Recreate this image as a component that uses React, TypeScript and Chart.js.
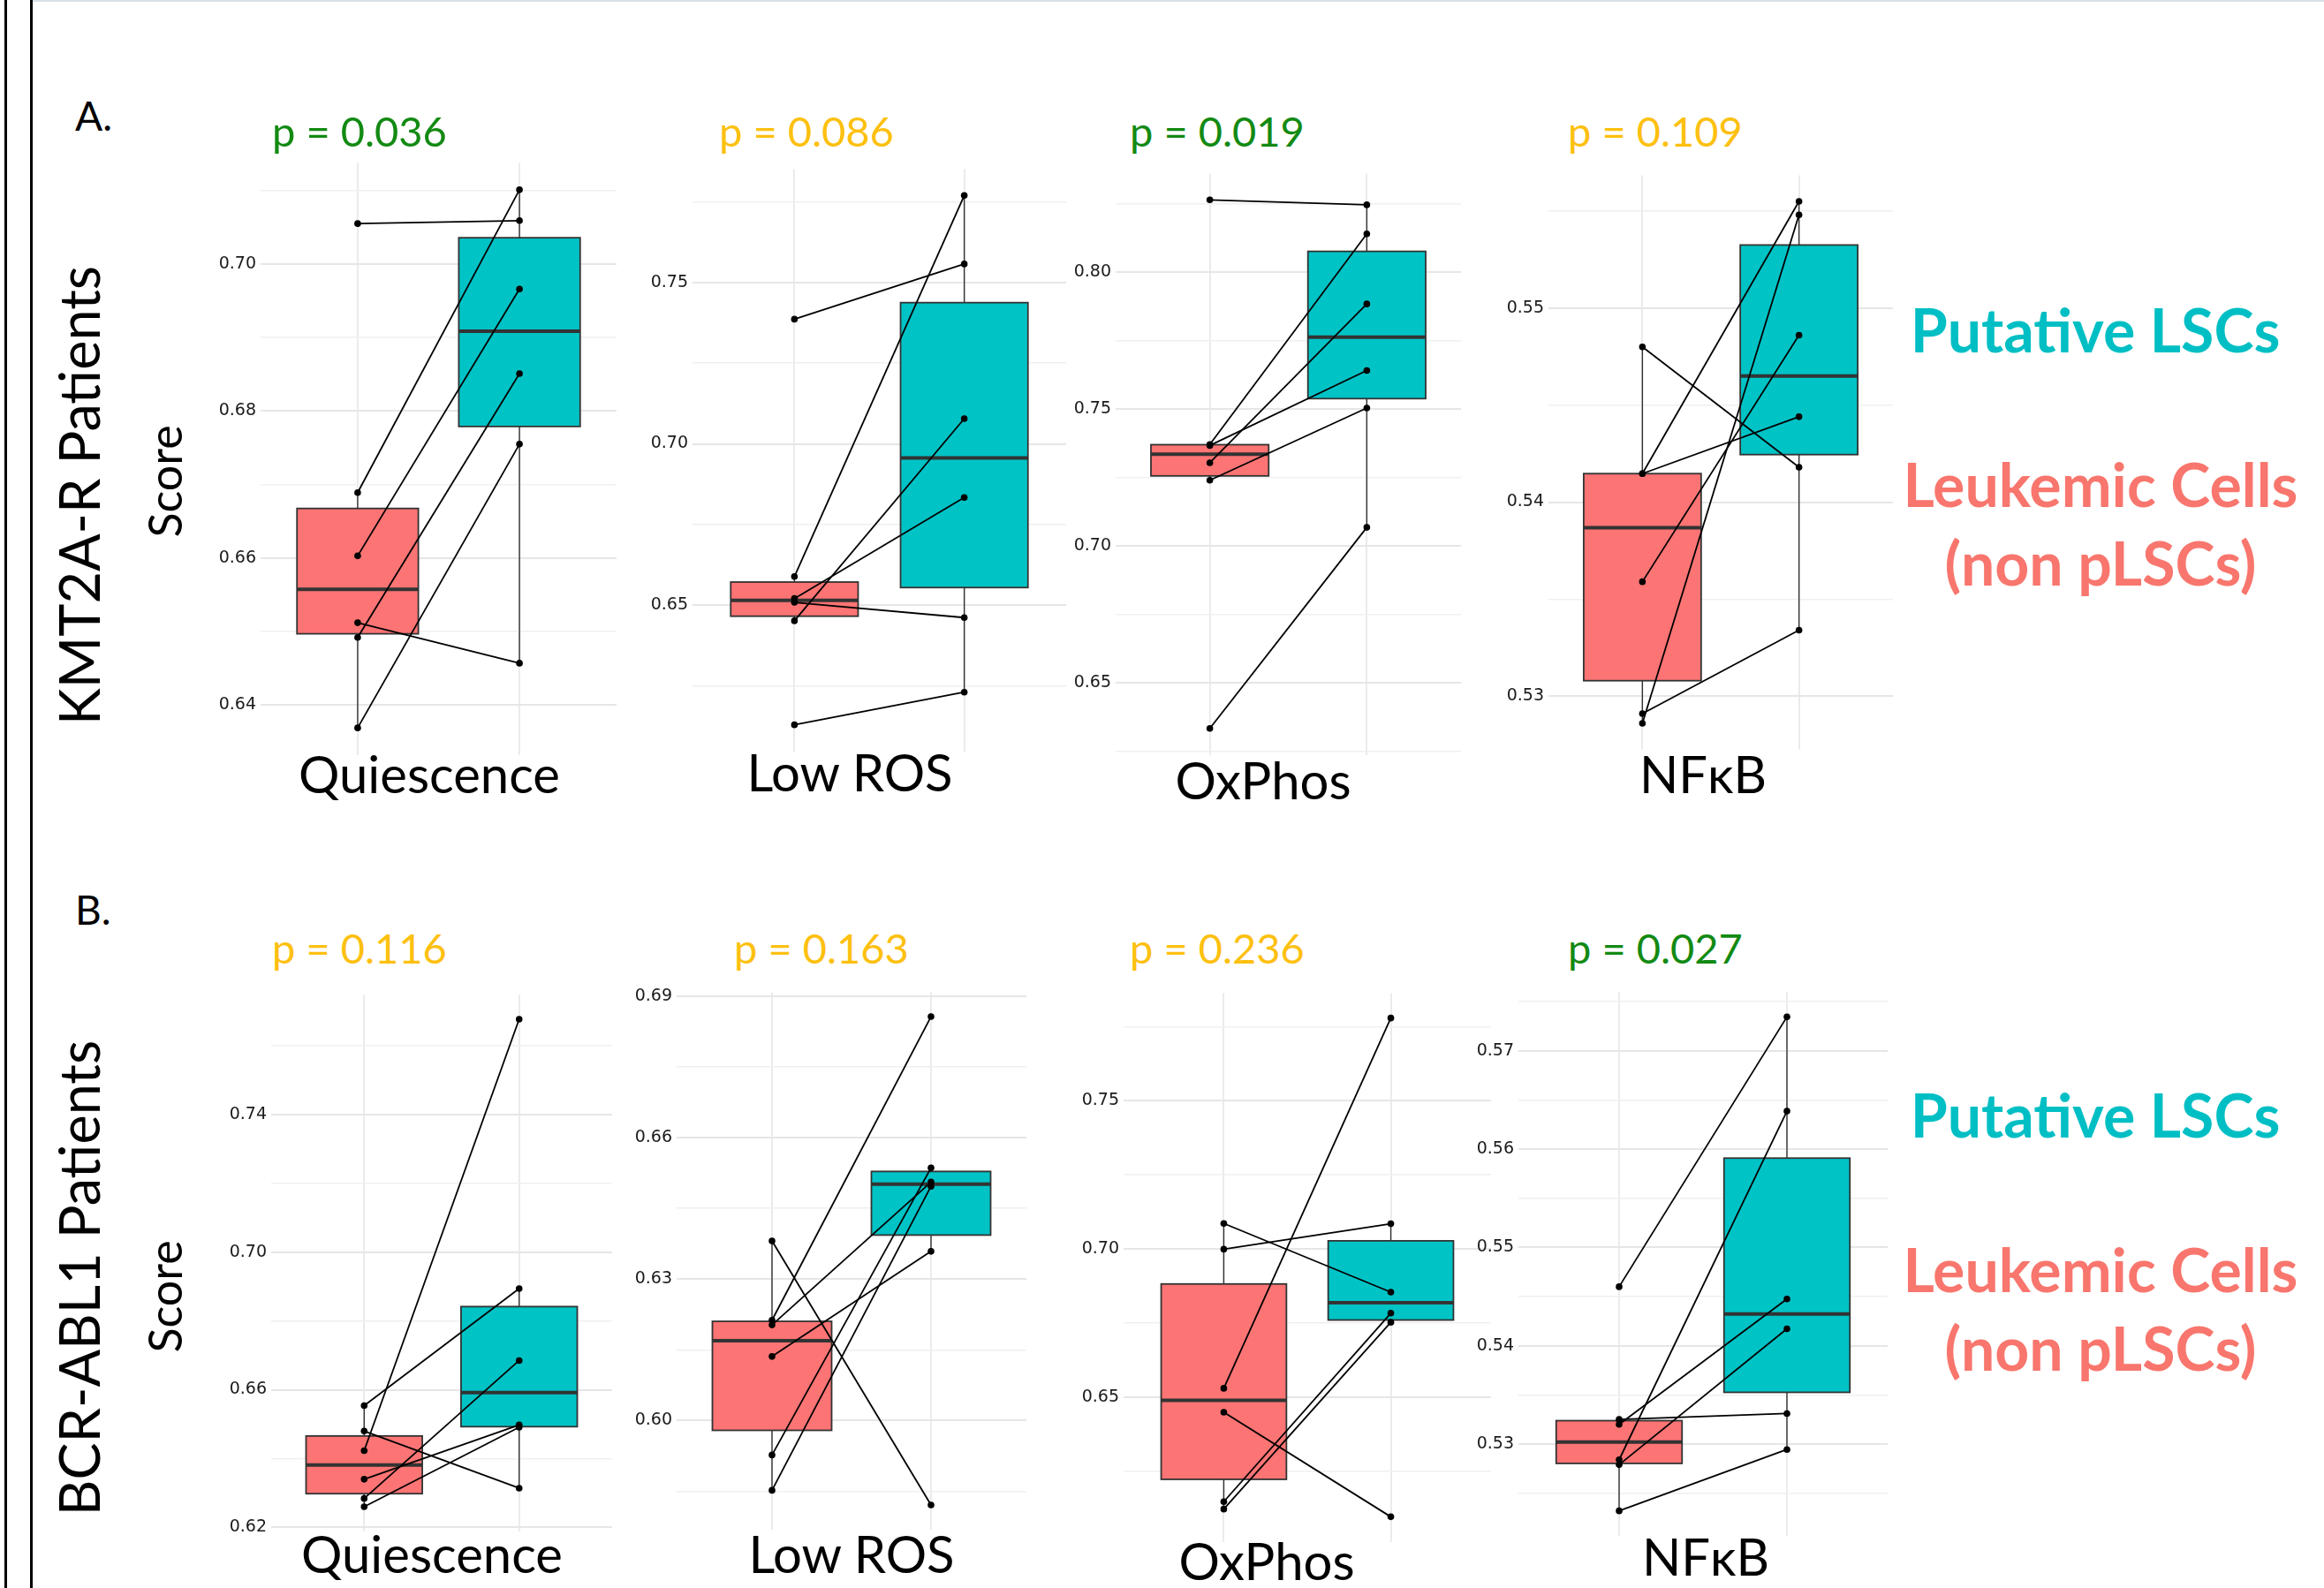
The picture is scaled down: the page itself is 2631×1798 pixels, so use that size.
import React, { useEffect, useRef } from 'react';
import { Chart, registerables } from 'chart.js';

Chart.register(...registerables);

// ---------------- Data ----------------
const groupNames = ['Leukemic Cells (non pLSCs)', 'Putative LSCs'];
const signatures = ['Quiescence', 'Low ROS', 'OxPhos', 'NFκB'];
const cohorts = ['KMT2A-R Patients', 'BCR-ABL1 Patients'];

// KMT2A-R patients (paired by index: non-pLSC -> pLSC)
const kmt2aQuiescenceLC = [0.7055, 0.6689, 0.6603, 0.6512, 0.6492, 0.6369];
const kmt2aQuiescenceLSC = [0.7059, 0.7101, 0.6966, 0.6457, 0.6851, 0.6755];
const kmt2aLowRosLC = [0.7386, 0.6589, 0.6521, 0.6509, 0.6452, 0.613];
const kmt2aLowRosLSC = [0.7557, 0.7769, 0.6834, 0.6462, 0.7078, 0.6231];
const kmt2aOxPhosLC = [0.8263, 0.737, 0.7366, 0.7303, 0.7239, 0.6333];
const kmt2aOxPhosLSC = [0.8245, 0.8139, 0.764, 0.7883, 0.7503, 0.7067];
const kmt2aNfkbLC = [0.548, 0.54147, 0.54147, 0.5359, 0.5291, 0.5286];
const kmt2aNfkbLSC = [0.5418, 0.5555, 0.5444, 0.5486, 0.5334, 0.5548];

// BCR-ABL1 patients
const bcrQuiescenceLC = [0.6554, 0.648, 0.6423, 0.634, 0.6284, 0.626];
const bcrQuiescenceLSC = [0.6894, 0.6314, 0.7677, 0.6498, 0.6685, 0.6491];
const bcrLowRosLC = [0.6381, 0.6213, 0.6203, 0.6136, 0.5927, 0.5852];
const bcrLowRosLSC = [0.5821, 0.6857, 0.6506, 0.6359, 0.6536, 0.6497];
const bcrOxPhosLC = [0.7086, 0.6999, 0.6529, 0.6448, 0.6146, 0.6121];
const bcrOxPhosLSC = [0.6854, 0.7085, 0.778, 0.6095, 0.6783, 0.6752];
const bcrNfkbLC = [0.546, 0.5325, 0.532, 0.5284, 0.5279, 0.5232];
const bcrNfkbLSC = [0.57345, 0.5331, 0.54475, 0.56386, 0.54172, 0.52944];

const kmt2aPValues = [0.036, 0.086, 0.019, 0.109];
const bcrPValues = [0.116, 0.163, 0.236, 0.027];

// labelled (major) y ticks per panel
const kmt2aQuiescenceTicks = [0.64, 0.66, 0.68, 0.7];
const kmt2aLowRosTicks = [0.65, 0.7, 0.75];
const kmt2aOxPhosTicks = [0.65, 0.7, 0.75, 0.8];
const kmt2aNfkbTicks = [0.53, 0.54, 0.55];
const bcrQuiescenceTicks = [0.62, 0.66, 0.7, 0.74];
const bcrLowRosTicks = [0.6, 0.63, 0.66, 0.69];
const bcrOxPhosTicks = [0.65, 0.7, 0.75];
const bcrNfkbTicks = [0.53, 0.54, 0.55, 0.56, 0.57];

// ---------------- Layout / style ----------------
const RED = '#FC7474';
const TEAL = '#00C3C6';
const SIG_GREEN = '#138A13';
const NS_YELLOW = '#FDC010';

// panel plot rectangles [left, top, right, bottom]
const panelRectsA = [
  [295, 182, 698, 857],
  [784, 189, 1207, 853],
  [1263, 194, 1654, 857],
  [1753, 196, 2143, 851],
];
const panelRectsB = [
  [307, 1124, 693, 1736],
  [766, 1121, 1162, 1734],
  [1272, 1122, 1688, 1748],
  [1719, 1121, 2137, 1741],
];
const pLeftA = [308, 814, 1279, 1775];
const pLeftB = [308, 831, 1279, 1775];
const pBaseA = 167;
const pBaseB = 1092;
const xLabCenterA = [486, 962, 1430, 1928];
const xLabBaseA = [898, 896, 905, 898];
const xLabCenterB = [489, 964, 1434, 1931];
const xLabBaseB = [1781, 1781, 1789, 1784];

const AXIS_W = 70;
const PAD_T = 14;
const PAD_B = 14;
const PAD_R = 6;
const LATO_ASC = 0.887;

function quantile(sorted: number[], q: number) {
  const pos = (sorted.length - 1) * q;
  const lo = Math.floor(pos);
  const hi = Math.ceil(pos);
  return sorted[lo] + (sorted[hi] - sorted[lo]) * (pos - lo);
}

function boxStats(vals: number[]) {
  const s = [...vals].sort((a, b) => a - b);
  const q1 = quantile(s, 0.25);
  const med = quantile(s, 0.5);
  const q3 = quantile(s, 0.75);
  const iqr = q3 - q1;
  const lo = Math.min(...s.filter((v) => v >= q1 - 1.5 * iqr));
  const hi = Math.max(...s.filter((v) => v <= q3 + 1.5 * iqr));
  return { q1, med, q3, lo, hi };
}

function makeBoxPlugin(groups: { x: number; values: number[]; fill: string }[]) {
  return {
    id: 'pairedBoxes',
    beforeDatasetsDraw(chart: any) {
      const { ctx } = chart;
      const xs = chart.scales.x;
      const ys = chart.scales.y;
      ctx.save();
      for (const g of groups) {
        const st = boxStats(g.values);
        const cx = xs.getPixelForValue(g.x);
        const x0 = xs.getPixelForValue(g.x - 0.375);
        const x1 = xs.getPixelForValue(g.x + 0.375);
        const yq1 = ys.getPixelForValue(st.q1);
        const yq3 = ys.getPixelForValue(st.q3);
        const ymed = ys.getPixelForValue(st.med);
        // whiskers
        ctx.strokeStyle = '#333333';
        ctx.lineWidth = 1.4;
        ctx.beginPath();
        ctx.moveTo(cx, ys.getPixelForValue(st.lo));
        ctx.lineTo(cx, yq1);
        ctx.moveTo(cx, yq3);
        ctx.lineTo(cx, ys.getPixelForValue(st.hi));
        ctx.stroke();
        // box
        ctx.fillStyle = g.fill;
        ctx.fillRect(x0, yq3, x1 - x0, yq1 - yq3);
        ctx.lineWidth = 1.8;
        ctx.strokeStyle = '#333333';
        ctx.strokeRect(x0, yq3, x1 - x0, yq1 - yq3);
        // median
        ctx.lineWidth = 4;
        ctx.beginPath();
        ctx.moveTo(x0, ymed);
        ctx.lineTo(x1, ymed);
        ctx.stroke();
      }
      ctx.restore();
    },
  };
}

type PanelProps = { rect: number[]; lc: number[]; lsc: number[]; majors: number[] };

function Panel({ rect, lc, lsc, majors }: PanelProps) {
  const ref = useRef<HTMLCanvasElement>(null);
  const [l, t, r, b] = rect;
  const w = r - l + AXIS_W + PAD_R;
  const h = b - t + PAD_T + PAD_B;

  useEffect(() => {
    const all = [...lc, ...lsc];
    const lo = Math.min(...all);
    const hi = Math.max(...all);
    const ex = (hi - lo) * 0.05;
    const yMin = lo - ex;
    const yMax = hi + ex;
    const step = majors[1] - majors[0];
    const half = step / 2;
    const base = majors[0];
    const tickVals: number[] = [];
    for (let k = Math.ceil((yMin - base) / half - 1e-9); base + k * half <= yMax + 1e-12; k++) {
      tickVals.push(Math.round((base + k * half) * 100000) / 100000);
    }
    const isMajor = (v: number) => majors.some((m) => Math.abs(m - v) < 1e-6);

    const datasets = lc.map((v, i) => ({
      data: [
        { x: 1, y: v },
        { x: 2, y: lsc[i] },
      ],
      borderColor: '#000000',
      borderWidth: 1.8,
      pointRadius: 3.8,
      pointBackgroundColor: '#000000',
      pointBorderWidth: 0,
      fill: false,
      tension: 0,
    }));

    const chart = new Chart(ref.current as HTMLCanvasElement, {
      type: 'line',
      data: { datasets } as any,
      options: {
        responsive: false,
        animation: false,
        events: [],
        layout: {
          padding: { left: 0, right: PAD_R, top: PAD_T, bottom: PAD_B },
          autoPadding: false,
        } as any,
        plugins: { legend: { display: false }, tooltip: { enabled: false } },
        scales: {
          x: {
            type: 'linear',
            min: 0.4,
            max: 2.6,
            afterBuildTicks: (s: any) => {
              s.ticks = [{ value: 1 }, { value: 2 }];
            },
            afterFit: (s: any) => {
              s.height = 0;
            },
            ticks: { display: false },
            grid: { color: '#EBEBEB', lineWidth: 2, drawTicks: false },
            border: { display: false },
          },
          y: {
            type: 'linear',
            min: yMin,
            max: yMax,
            afterBuildTicks: (s: any) => {
              s.ticks = tickVals.map((v) => ({ value: v }));
            },
            afterFit: (s: any) => {
              s.width = AXIS_W;
            },
            ticks: {
              autoSkip: false,
              padding: 5,
              color: '#1A1A1A',
              font: { family: 'DejaVu Sans', size: 19 },
              callback: (v: any) => (isMajor(Number(v)) ? Number(v).toFixed(2) : ''),
            },
            grid: {
              drawTicks: false,
              color: (c: any) => (isMajor(c.tick.value) ? '#E6E6E6' : '#F0F0F0'),
              lineWidth: (c: any) => (isMajor(c.tick.value) ? 2 : 1.6),
            },
            border: { display: false },
          },
        },
      } as any,
      plugins: [
        makeBoxPlugin([
          { x: 1, values: lc, fill: RED },
          { x: 2, values: lsc, fill: TEAL },
        ]),
      ],
    });
    return () => chart.destroy();
  }, []);

  return (
    <canvas
      ref={ref}
      width={w}
      height={h}
      style={{ position: 'absolute', left: l - AXIS_W, top: t - PAD_T, width: w, height: h }}
    />
  );
}

type TxtProps = {
  x: number;
  base: number;
  size: number;
  color?: string;
  weight?: number;
  align?: 'left' | 'center';
  family?: string;
  children: React.ReactNode;
};

function Txt({ x, base, size, color = '#000', weight = 400, align = 'left', family = 'Lato', children }: TxtProps) {
  return (
    <div
      style={{
        position: 'absolute',
        left: x,
        top: base - LATO_ASC * size,
        fontFamily: family,
        fontSize: size,
        fontWeight: weight,
        color,
        lineHeight: 1,
        whiteSpace: 'nowrap',
        transform: align === 'center' ? 'translateX(-50%)' : undefined,
      }}
    >
      {children}
    </div>
  );
}

function VTxt({ baseX, cy, size, children }: { baseX: number; cy: number; size: number; children: React.ReactNode }) {
  const cx = baseX - (LATO_ASC - 0.5) * size;
  return (
    <div
      style={{
        position: 'absolute',
        left: cx,
        top: cy,
        fontFamily: 'Lato',
        fontSize: size,
        lineHeight: 1,
        whiteSpace: 'nowrap',
        color: '#000',
        transform: 'translate(-50%, -50%) rotate(-90deg)',
      }}
    >
      {children}
    </div>
  );
}

const kmt2aLC = [kmt2aQuiescenceLC, kmt2aLowRosLC, kmt2aOxPhosLC, kmt2aNfkbLC];
const kmt2aLSC = [kmt2aQuiescenceLSC, kmt2aLowRosLSC, kmt2aOxPhosLSC, kmt2aNfkbLSC];
const kmt2aTicks = [kmt2aQuiescenceTicks, kmt2aLowRosTicks, kmt2aOxPhosTicks, kmt2aNfkbTicks];
const bcrLC = [bcrQuiescenceLC, bcrLowRosLC, bcrOxPhosLC, bcrNfkbLC];
const bcrLSC = [bcrQuiescenceLSC, bcrLowRosLSC, bcrOxPhosLSC, bcrNfkbLSC];
const bcrTicks = [bcrQuiescenceTicks, bcrLowRosTicks, bcrOxPhosTicks, bcrNfkbTicks];

function Legend({ dy }: { dy: number }) {
  return (
    <>
      <Txt x={2372} base={399 + dy} size={68} weight={700} color="#00BFC4" align="center">
        Putative LSCs
      </Txt>
      <Txt x={2378} base={574 + dy} size={68} weight={700} color="#F8766D" align="center">
        Leukemic Cells
      </Txt>
      <Txt x={2378} base={663 + dy} size={68} weight={700} color="#F8766D" align="center">
        (non pLSCs)
      </Txt>
    </>
  );
}

export default function App() {
  return (
    <div
      style={{
        position: 'absolute',
        left: 0,
        top: 0,
        width: 2631,
        height: 1798,
        background: '#ffffff',
        overflow: 'hidden',
      }}
    >
      {/* frame lines */}
      <div style={{ position: 'absolute', left: 5, top: 0, width: 3, height: 1798, background: '#000' }} />
      <div style={{ position: 'absolute', left: 34, top: 0, width: 3, height: 1798, background: '#000' }} />
      <div style={{ position: 'absolute', left: 37, top: 0, width: 2594, height: 2, background: '#D8E0E6' }} />

      {/* panel letters */}
      <Txt x={85} base={149} size={46}>A.</Txt>
      <Txt x={85} base={1048} size={46}>B.</Txt>

      {/* row labels */}
      <VTxt baseX={112} cy={561} size={63}>{cohorts[0]}</VTxt>
      <VTxt baseX={206} cy={545} size={52}>Score</VTxt>
      <VTxt baseX={112} cy={1447} size={63}>{cohorts[1]}</VTxt>
      <VTxt baseX={206} cy={1468} size={52}>Score</VTxt>

      {signatures.map((s, i) => (
        <React.Fragment key={'A' + s}>
          <Panel rect={panelRectsA[i]} lc={kmt2aLC[i]} lsc={kmt2aLSC[i]} majors={kmt2aTicks[i]} />
          <Txt x={pLeftA[i]} base={pBaseA} size={47} color={kmt2aPValues[i] < 0.05 ? SIG_GREEN : NS_YELLOW}>
            {'p = ' + kmt2aPValues[i].toFixed(3)}
          </Txt>
          <Txt x={xLabCenterA[i]} base={xLabBaseA[i]} size={58} align="center">
            {s}
          </Txt>
        </React.Fragment>
      ))}
      {signatures.map((s, i) => (
        <React.Fragment key={'B' + s}>
          <Panel rect={panelRectsB[i]} lc={bcrLC[i]} lsc={bcrLSC[i]} majors={bcrTicks[i]} />
          <Txt x={pLeftB[i]} base={pBaseB} size={47} color={bcrPValues[i] < 0.05 ? SIG_GREEN : NS_YELLOW}>
            {'p = ' + bcrPValues[i].toFixed(3)}
          </Txt>
          <Txt x={xLabCenterB[i]} base={xLabBaseB[i]} size={58} align="center">
            {s}
          </Txt>
        </React.Fragment>
      ))}

      <Legend dy={0} />
      <Legend dy={889} />
      <span style={{ display: 'none' }}>{groupNames.join(' / ')}</span>
    </div>
  );
}
